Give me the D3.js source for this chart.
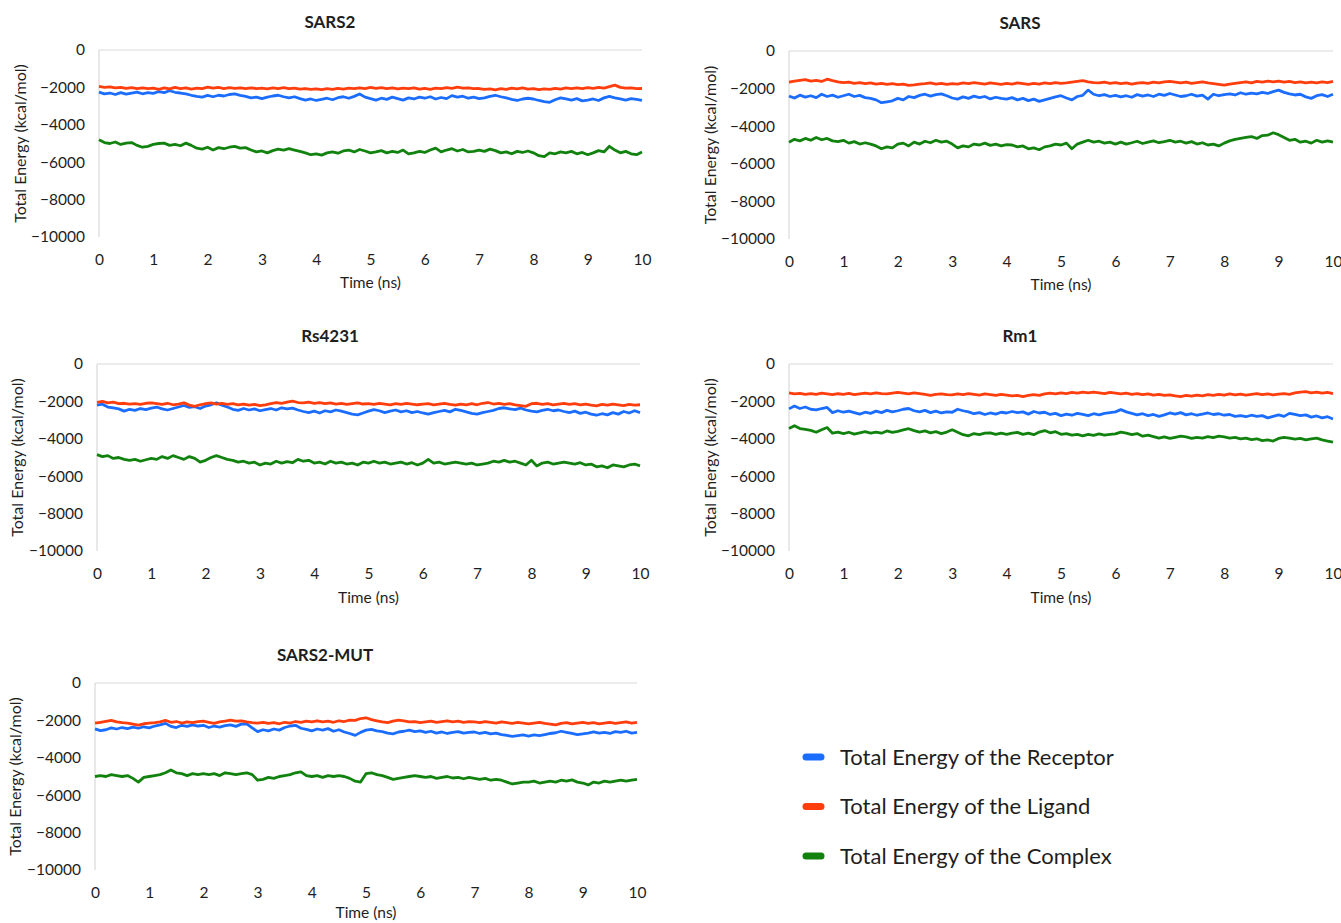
<!DOCTYPE html>
<html>
<head>
<meta charset="utf-8">
<script src="https://cdn.jsdelivr.net/npm/d3@7"></script>
<style>
  body { margin: 0; background: #fff; }
  svg { font-family: Lato, "Open Sans", sans-serif; }
</style>
</head>
<body>
<div id="chart"></div>
<script>
const WIDTH = 1341;
const HEIGHT = 923;

// sampling every 0.1 ns, 0 -> 10 ns
const times = d3.range(101).map(i => i / 10);
const xTicks = [0, 1, 2, 3, 4, 5, 6, 7, 8, 9, 10];
const yTicks = [0, -2000, -4000, -6000, -8000, -10000];
const seriesNames = ["Total Energy of the Receptor", "Total Energy of the Ligand", "Total Energy of the Complex"];
const panelNames = ["SARS2", "SARS", "Rs4231", "Rm1", "SARS2-MUT"];

// SARS2
const sars2Receptor = [-2250,-2350,-2300,-2380,-2280,-2360,-2300,-2250,-2340,-2280,-2320,
  -2220,-2280,-2180,-2260,-2300,-2350,-2420,-2480,-2520,-2430,
  -2500,-2420,-2460,-2380,-2350,-2430,-2480,-2560,-2520,-2600,
  -2520,-2460,-2420,-2500,-2560,-2500,-2600,-2680,-2620,-2700,
  -2640,-2580,-2660,-2550,-2500,-2580,-2480,-2350,-2520,-2600,
  -2680,-2580,-2640,-2520,-2600,-2680,-2560,-2620,-2520,-2580,
  -2500,-2620,-2540,-2600,-2440,-2520,-2470,-2580,-2520,-2600,
  -2560,-2480,-2420,-2500,-2560,-2640,-2700,-2620,-2580,-2620,
  -2700,-2760,-2800,-2660,-2560,-2620,-2680,-2600,-2720,-2680,
  -2620,-2700,-2560,-2480,-2560,-2620,-2680,-2600,-2640,-2700,-2680];
const sars2Ligand = [-1950,-2000,-1970,-2030,-2000,-2050,-2010,-2060,-2020,-2070,-2040,
  -2100,-2030,-2080,-2000,-2060,-2020,-2090,-2040,-2070,-1990,
  -2040,-2000,-2060,-2010,-2050,-2020,-2070,-2030,-2060,-2040,
  -2080,-2030,-2060,-2010,-2070,-2040,-2090,-2060,-2110,-2080,
  -2120,-2070,-2100,-2050,-2090,-2040,-2070,-2020,-2060,-2000,
  -2050,-2010,-2060,-2030,-2080,-2040,-2070,-2020,-2090,-2050,
  -2100,-2040,-2070,-2010,-2050,-1990,-2040,-2020,-2070,-2060,
  -2110,-2080,-2130,-2070,-2100,-2040,-2080,-2030,-2090,-2060,
  -2120,-2080,-2110,-2050,-2090,-2030,-2070,-2020,-2060,-2010,
  -2050,-2000,-2040,-1960,-1880,-2000,-2040,-2020,-2070,-2060,-2100];
const sars2Complex = [-4800,-4950,-5000,-4920,-5050,-4980,-4950,-5100,-5200,-5150,-5050,
  -5000,-4980,-5100,-5050,-5120,-4980,-5100,-5250,-5300,-5200,
  -5350,-5220,-5280,-5200,-5150,-5250,-5220,-5350,-5450,-5400,
  -5500,-5380,-5300,-5350,-5280,-5350,-5420,-5500,-5600,-5550,
  -5620,-5500,-5450,-5520,-5400,-5350,-5450,-5320,-5400,-5500,
  -5450,-5380,-5500,-5420,-5480,-5350,-5550,-5500,-5420,-5480,
  -5350,-5250,-5450,-5350,-5280,-5400,-5320,-5450,-5420,-5350,
  -5420,-5300,-5380,-5500,-5450,-5550,-5420,-5480,-5400,-5500,
  -5650,-5700,-5500,-5550,-5450,-5500,-5420,-5550,-5480,-5600,
  -5500,-5380,-5450,-5150,-5350,-5500,-5420,-5550,-5600,-5450,-5520];

// SARS
const sarsReceptor = [-2400,-2500,-2350,-2450,-2380,-2480,-2300,-2420,-2350,-2460,-2380,
  -2300,-2420,-2360,-2480,-2520,-2600,-2750,-2700,-2650,-2520,
  -2600,-2420,-2480,-2360,-2300,-2400,-2320,-2280,-2380,-2500,
  -2560,-2440,-2520,-2400,-2480,-2420,-2550,-2460,-2520,-2560,
  -2480,-2600,-2520,-2640,-2560,-2680,-2600,-2520,-2440,-2380,
  -2500,-2600,-2420,-2360,-2080,-2300,-2380,-2320,-2420,-2360,
  -2440,-2380,-2460,-2320,-2400,-2340,-2420,-2300,-2360,-2260,
  -2340,-2420,-2380,-2300,-2400,-2350,-2560,-2300,-2380,-2320,
  -2280,-2340,-2220,-2300,-2240,-2280,-2200,-2260,-2160,-2080,
  -2200,-2280,-2340,-2300,-2440,-2520,-2380,-2320,-2420,-2300,-2380];
const sarsLigand = [-1650,-1600,-1560,-1520,-1600,-1560,-1620,-1500,-1580,-1640,-1680,
  -1650,-1720,-1680,-1740,-1700,-1760,-1720,-1780,-1740,-1790,
  -1760,-1830,-1800,-1760,-1740,-1700,-1760,-1720,-1780,-1740,
  -1760,-1700,-1740,-1680,-1720,-1760,-1700,-1740,-1780,-1720,
  -1760,-1700,-1740,-1780,-1720,-1760,-1700,-1740,-1680,-1720,
  -1700,-1660,-1620,-1580,-1640,-1680,-1700,-1660,-1720,-1680,
  -1740,-1700,-1760,-1710,-1680,-1720,-1660,-1700,-1640,-1620,
  -1660,-1700,-1650,-1720,-1680,-1640,-1700,-1740,-1780,-1820,
  -1760,-1720,-1680,-1640,-1700,-1620,-1660,-1600,-1640,-1600,
  -1660,-1620,-1680,-1640,-1700,-1660,-1700,-1640,-1680,-1620,-1660];
const sarsComplex = [-4850,-4700,-4780,-4650,-4750,-4600,-4720,-4650,-4780,-4820,-4750,
  -4900,-4820,-4950,-4880,-4950,-5050,-5200,-5100,-5150,-4950,
  -4900,-5050,-4850,-4950,-4800,-4880,-4750,-4850,-4800,-4950,
  -5150,-5050,-5100,-4950,-5000,-4900,-5020,-4950,-5050,-4980,
  -5000,-5100,-5050,-5200,-5150,-5250,-5100,-5050,-4950,-5000,
  -4900,-5200,-4950,-4850,-4750,-4850,-4800,-4900,-4850,-4950,
  -4850,-4950,-4880,-4800,-4920,-4850,-4780,-4880,-4820,-4750,
  -4850,-4800,-4900,-4820,-4950,-4880,-5000,-4950,-5050,-4900,
  -4780,-4700,-4650,-4600,-4550,-4650,-4500,-4480,-4350,-4450,
  -4600,-4750,-4700,-4850,-4800,-4900,-4750,-4850,-4780,-4850,-4800];

// Rs4231
const rsReceptor = [-2200,-2150,-2300,-2350,-2400,-2520,-2420,-2480,-2380,-2440,-2360,
  -2300,-2400,-2460,-2380,-2300,-2220,-2320,-2280,-2380,-2250,
  -2180,-2080,-2200,-2300,-2420,-2480,-2380,-2460,-2400,-2500,
  -2440,-2380,-2460,-2340,-2400,-2360,-2460,-2540,-2600,-2520,
  -2620,-2500,-2560,-2460,-2520,-2600,-2680,-2720,-2620,-2520,
  -2440,-2500,-2600,-2520,-2460,-2560,-2500,-2600,-2540,-2620,
  -2680,-2600,-2540,-2480,-2560,-2420,-2480,-2560,-2640,-2680,
  -2600,-2540,-2480,-2380,-2340,-2400,-2440,-2360,-2460,-2520,
  -2560,-2480,-2420,-2500,-2460,-2540,-2600,-2520,-2640,-2580,
  -2680,-2740,-2660,-2720,-2600,-2680,-2540,-2620,-2500,-2600,-2640];
const rsLigand = [-2050,-2000,-2080,-2040,-2120,-2100,-2150,-2120,-2160,-2100,-2080,
  -2120,-2160,-2100,-2180,-2140,-2080,-2200,-2260,-2180,-2120,
  -2080,-2140,-2100,-2160,-2120,-2180,-2140,-2200,-2160,-2220,
  -2180,-2120,-2060,-2100,-2040,-1980,-2060,-2080,-2040,-2100,
  -2060,-2120,-2080,-2140,-2100,-2160,-2120,-2080,-2140,-2120,
  -2160,-2100,-2140,-2180,-2120,-2160,-2100,-2140,-2180,-2150,
  -2120,-2180,-2140,-2100,-2160,-2200,-2140,-2180,-2120,-2180,
  -2100,-2060,-2140,-2100,-2160,-2120,-2180,-2220,-2260,-2120,
  -2100,-2160,-2120,-2180,-2140,-2100,-2160,-2120,-2180,-2140,
  -2200,-2240,-2160,-2200,-2140,-2180,-2220,-2160,-2200,-2180,-2220];
const rsComplex = [-4850,-4950,-4900,-5050,-5000,-5100,-5150,-5100,-5200,-5120,-5050,
  -5100,-4950,-5050,-4900,-5000,-5100,-4950,-5050,-5250,-5150,
  -5000,-4900,-5000,-5100,-5150,-5250,-5200,-5300,-5250,-5400,
  -5300,-5350,-5200,-5300,-5220,-5280,-5100,-5200,-5150,-5300,
  -5250,-5350,-5200,-5300,-5250,-5350,-5300,-5400,-5250,-5300,
  -5200,-5300,-5250,-5350,-5300,-5250,-5350,-5280,-5400,-5300,
  -5100,-5300,-5250,-5350,-5300,-5250,-5300,-5350,-5300,-5400,
  -5350,-5300,-5200,-5250,-5150,-5250,-5200,-5300,-5400,-5150,
  -5450,-5300,-5250,-5350,-5300,-5250,-5300,-5350,-5280,-5400,
  -5350,-5500,-5450,-5550,-5400,-5450,-5500,-5400,-5350,-5450,-5500];

// Rm1
const rmReceptor = [-2400,-2250,-2380,-2300,-2420,-2450,-2380,-2320,-2600,-2500,-2580,
  -2520,-2600,-2680,-2580,-2640,-2520,-2600,-2480,-2560,-2500,
  -2420,-2380,-2500,-2560,-2480,-2600,-2520,-2620,-2560,-2580,
  -2420,-2500,-2560,-2660,-2600,-2700,-2620,-2680,-2580,-2620,
  -2540,-2600,-2560,-2680,-2540,-2620,-2580,-2700,-2640,-2760,
  -2680,-2740,-2640,-2700,-2760,-2660,-2720,-2640,-2600,-2560,
  -2440,-2560,-2640,-2720,-2660,-2760,-2700,-2800,-2720,-2620,
  -2680,-2600,-2720,-2660,-2740,-2680,-2620,-2700,-2660,-2740,
  -2700,-2800,-2760,-2820,-2740,-2800,-2760,-2880,-2800,-2720,
  -2800,-2640,-2700,-2760,-2720,-2840,-2780,-2880,-2820,-2940,-2860];
const rmLigand = [-1550,-1600,-1570,-1620,-1580,-1620,-1560,-1600,-1640,-1590,-1620,
  -1570,-1640,-1600,-1560,-1600,-1540,-1580,-1600,-1560,-1520,
  -1560,-1600,-1540,-1580,-1620,-1680,-1620,-1600,-1640,-1650,
  -1600,-1640,-1580,-1620,-1660,-1600,-1640,-1680,-1620,-1660,
  -1700,-1680,-1740,-1680,-1640,-1680,-1600,-1560,-1600,-1540,
  -1580,-1520,-1560,-1500,-1540,-1500,-1540,-1580,-1520,-1560,
  -1600,-1560,-1620,-1580,-1640,-1600,-1660,-1620,-1680,-1650,
  -1700,-1740,-1680,-1720,-1660,-1700,-1640,-1680,-1620,-1660,
  -1600,-1650,-1610,-1660,-1620,-1580,-1640,-1600,-1650,-1610,
  -1580,-1620,-1540,-1500,-1480,-1540,-1500,-1560,-1520,-1580,-1560];
const rmComplex = [-3450,-3300,-3450,-3500,-3550,-3650,-3520,-3400,-3700,-3640,-3720,
  -3650,-3750,-3680,-3620,-3700,-3640,-3700,-3580,-3660,-3600,
  -3520,-3460,-3560,-3640,-3580,-3680,-3620,-3720,-3640,-3520,
  -3650,-3780,-3840,-3720,-3780,-3700,-3680,-3760,-3700,-3760,
  -3700,-3660,-3760,-3700,-3780,-3640,-3560,-3680,-3620,-3760,
  -3720,-3800,-3760,-3840,-3760,-3820,-3740,-3800,-3760,-3740,
  -3640,-3700,-3780,-3720,-3860,-3800,-3880,-3960,-3900,-3980,
  -3920,-3860,-3900,-3980,-3920,-3960,-3880,-3940,-3860,-3900,
  -3960,-3920,-4000,-3960,-4040,-4000,-4100,-4060,-4120,-3980,
  -3920,-3960,-4020,-3980,-4060,-4000,-3960,-4060,-4120,-4180,-4050];

// SARS2-MUT
const mutReceptor = [-2450,-2550,-2500,-2400,-2460,-2380,-2440,-2360,-2420,-2340,-2400,
  -2300,-2240,-2160,-2320,-2380,-2260,-2320,-2240,-2300,-2260,
  -2380,-2300,-2360,-2280,-2240,-2320,-2200,-2180,-2400,-2600,
  -2500,-2560,-2460,-2520,-2380,-2300,-2260,-2420,-2480,-2560,
  -2460,-2520,-2440,-2580,-2500,-2620,-2700,-2800,-2640,-2520,
  -2480,-2560,-2600,-2680,-2720,-2620,-2580,-2520,-2600,-2560,
  -2640,-2580,-2680,-2620,-2700,-2640,-2600,-2680,-2640,-2620,
  -2700,-2640,-2720,-2680,-2760,-2800,-2860,-2820,-2780,-2840,
  -2780,-2820,-2760,-2700,-2660,-2580,-2640,-2700,-2760,-2720,
  -2680,-2620,-2680,-2640,-2700,-2600,-2640,-2580,-2680,-2640,-2700];
const mutLigand = [-2150,-2100,-2050,-2000,-2080,-2120,-2150,-2200,-2250,-2180,-2150,
  -2120,-2080,-2000,-2100,-2060,-2140,-2080,-2120,-2060,-2040,
  -2100,-2160,-2080,-2040,-1980,-2040,-2020,-2080,-2120,-2150,
  -2100,-2160,-2120,-2180,-2100,-2140,-2060,-2100,-2040,-2080,
  -2020,-2080,-2040,-2100,-2020,-2060,-1980,-2000,-1900,-1860,
  -1960,-2020,-2080,-2120,-2040,-1980,-2020,-2080,-2060,-2120,
  -2080,-2040,-2100,-2060,-2020,-2080,-2040,-2100,-2060,-2080,
  -2120,-2060,-2100,-2140,-2080,-2120,-2160,-2100,-2140,-2180,
  -2140,-2100,-2160,-2200,-2240,-2160,-2120,-2180,-2140,-2100,
  -2160,-2120,-2180,-2140,-2100,-2160,-2120,-2080,-2140,-2100,-2060];
const mutComplex = [-5000,-4950,-5000,-4900,-4950,-5000,-4950,-5100,-5300,-5050,-5000,
  -4950,-4900,-4800,-4650,-4800,-4850,-4950,-4850,-4900,-4850,
  -4900,-4850,-4950,-4800,-4850,-4900,-4850,-4800,-4900,-5200,
  -5150,-5050,-5100,-5000,-4950,-4900,-4800,-4750,-4950,-5000,
  -4950,-5050,-4950,-5000,-4950,-5000,-5100,-5250,-5300,-4850,
  -4800,-4900,-4950,-5050,-5150,-5100,-5050,-5000,-4950,-5000,
  -5050,-5000,-5100,-5050,-5000,-5080,-5050,-5120,-5050,-5100,
  -5150,-5100,-5200,-5150,-5200,-5300,-5400,-5350,-5300,-5300,
  -5250,-5350,-5300,-5250,-5300,-5200,-5250,-5180,-5300,-5350,
  -5450,-5300,-5350,-5250,-5300,-5250,-5200,-5250,-5200,-5150,-5200];

const COLORS = ["#1b6dff", "#ff3d0d", "#12820f"];
const TEXT = "#1e1e1e";
const AXIS = "#d9d9d9";

// layout: plot box of each panel, title centre, axis-title x
const panels = [
  { name: panelNames[0], data: [sars2Receptor, sars2Ligand, sars2Complex], x0: 99, x1: 642, y0: 50, y1: 237, tx: 330, ylab: 20, xlab: 283 },
  { name: panelNames[1], data: [sarsReceptor, sarsLigand, sarsComplex], x0: 789, x1: 1333, y0: 51, y1: 239, tx: 1020, ylab: 710, xlab: 285 },
  { name: panelNames[2], data: [rsReceptor, rsLigand, rsComplex], x0: 97, x1: 640, y0: 364, y1: 551, tx: 330, ylab: 17, xlab: 598 },
  { name: panelNames[3], data: [rmReceptor, rmLigand, rmComplex], x0: 789, x1: 1333, y0: 364, y1: 551, tx: 1020, ylab: 710, xlab: 598 },
  { name: panelNames[4], data: [mutReceptor, mutLigand, mutComplex], x0: 95, x1: 637, y0: 683, y1: 870, tx: 325, ylab: 15, xlab: 913 }
];

const svg = d3.select("#chart")
  .append("svg")
  .attr("width", WIDTH)
  .attr("height", HEIGHT);

panels.forEach(p => {
  const x = d3.scaleLinear().domain([0, 10]).range([p.x0, p.x1]);
  const y = d3.scaleLinear().domain([-10000, 0]).range([p.y1, p.y0]);
  const g = svg.append("g");

  // axis lines: the time axis sits at y = 0 (top), value axis at t = 0
  g.append("line")
    .attr("x1", p.x0).attr("x2", p.x1)
    .attr("y1", y(0)).attr("y2", y(0))
    .attr("stroke", AXIS).attr("stroke-width", 1.2);
  g.append("line")
    .attr("x1", x(0)).attr("x2", x(0))
    .attr("y1", y(0)).attr("y2", y(-10000))
    .attr("stroke", AXIS).attr("stroke-width", 1.2);

  const yAxis = g.append("g")
    .attr("transform", `translate(${p.x0 - 14},0)`)
    .call(d3.axisLeft(y).tickValues(yTicks).tickSize(0).tickPadding(0).tickFormat(d3.format("d")));
  yAxis.select(".domain").remove();
  yAxis.selectAll("text")
    .attr("font-family", "Lato, sans-serif")
    .attr("font-size", 15.5)
    .attr("fill", TEXT);

  const xAxis = g.append("g")
    .attr("transform", `translate(0,${p.y1 + 17})`)
    .call(d3.axisBottom(x).tickValues(xTicks).tickSize(0).tickPadding(0).tickFormat(d3.format("d")));
  xAxis.select(".domain").remove();
  xAxis.selectAll("text")
    .attr("font-family", "Lato, sans-serif")
    .attr("font-size", 15.5)
    .attr("fill", TEXT);

  const line = d3.line()
    .x((d, i) => x(times[i]))
    .y(d => y(d));

  p.data.forEach((vals, k) => {
    g.append("path")
      .datum(vals)
      .attr("d", line)
      .attr("fill", "none")
      .attr("stroke", COLORS[k])
      .attr("stroke-width", 2.8)
      .attr("stroke-linejoin", "round");
  });

  g.append("text")
    .attr("x", p.tx).attr("y", p.y0 - 22)
    .attr("text-anchor", "middle")
    .attr("font-size", 17)
    .attr("font-weight", "bold")
    .attr("fill", TEXT)
    .text(p.name);

  g.append("text")
    .attr("x", (p.x0 + p.x1) / 2).attr("y", p.xlab)
    .attr("text-anchor", "middle")
    .attr("dy", "0.35em")
    .attr("font-size", 15.5)
    .attr("fill", TEXT)
    .text("Time (ns)");

  g.append("text")
    .attr("transform", `translate(${p.ylab},${(p.y0 + p.y1) / 2}) rotate(-90)`)
    .attr("text-anchor", "middle")
    .attr("dy", "0.35em")
    .attr("font-size", 16)
    .attr("fill", TEXT)
    .text("Total Energy (kcal/mol)");
});

// legend
const legend = svg.append("g").attr("transform", "translate(803,757)");
seriesNames.forEach((name, i) => {
  const row = legend.append("g").attr("transform", `translate(0,${i * 49.5})`);
  row.append("line")
    .attr("x1", 3).attr("x2", 18)
    .attr("y1", 0).attr("y2", 0)
    .attr("stroke", COLORS[i])
    .attr("stroke-width", 7)
    .attr("stroke-linecap", "round");
  row.append("text")
    .attr("x", 37).attr("dy", "0.35em")
    .attr("font-size", 22)
    .attr("fill", TEXT)
    .text(name);
});
</script>
</body>
</html>
